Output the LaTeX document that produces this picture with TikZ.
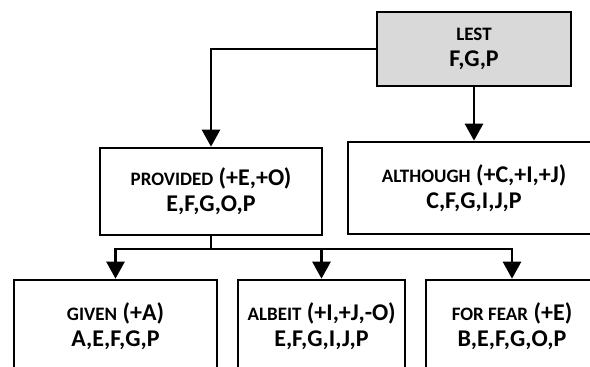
\documentclass[tikz,border=0pt]{standalone}
\usepackage{fontspec}
\setmainfont{Carlito}
\usepackage{tikz}
\usetikzlibrary{arrows.meta}
\tikzstyle{wordbox}=[rectangle,draw,line width=1.3pt,fill=white,align=center,inner sep=0pt,font=\fontsize{12}{13}\selectfont\bfseries]
\tikzstyle{edge} = [draw,line width=1.3pt,-{Triangle[width=9pt,length=8.5pt]}]
\tikzstyle{plainedge} = [draw,line width=1.3pt]
\newcommand{\wrd}[1]{{\fontsize{9.5}{11}\selectfont #1}}

\begin{document}
\begin{tikzpicture}[x=0.5pt,y=-0.5pt]
\useasboundingbox (0,0) rectangle (590,367);
\clip (0,0) rectangle (590,367);

    % top level
    \node[wordbox,fill=black!15,minimum width=97pt,minimum height=37pt] (lest) at (474,49) {\wrd{LEST}\\F,G,P};

    % second level
    \node[wordbox,minimum width=111pt,minimum height=43.5pt] (provided) at (211,191.5) {\wrd{PROVIDED} (+E,+O)\\E,F,G,O,P};
    \node[wordbox,minimum width=126pt,minimum height=46pt] (although) at (474,188) {\wrd{ALTHOUGH} (+C,+I,+J)\\C,F,G,I,J,P};

    % third level
    \foreach \pos/ \wid/ \name/ \txt in {{(115.5,326)/101.5pt/given/{\wrd{GIVEN} (+A)\\A,E,F,G,P}},
                                        {(321.5,326)/83.5pt/albeit/{\wrd{ALBEIT} (+I,+J,-O)\\E,F,G,I,J,P}},
                                        {(512,326)/86pt/forfear/{\wrd{FOR FEAR} (+E)\\B,E,F,G,O,P}}}
        \node[wordbox,minimum width=\wid,minimum height=46pt] (\name) at \pos {\txt};

    % connectors
    \path[edge] (lest.west) -| (provided.north);
    \path[edge] (lest.south) -- (although.north);

    \coordinate (split) at (211,249);
    \path[plainedge] (provided.south) -- (split);
    \foreach \dest in {given, albeit, forfear}
        \path[edge] (split) -| (\dest.north);

\end{tikzpicture}
\end{document}
